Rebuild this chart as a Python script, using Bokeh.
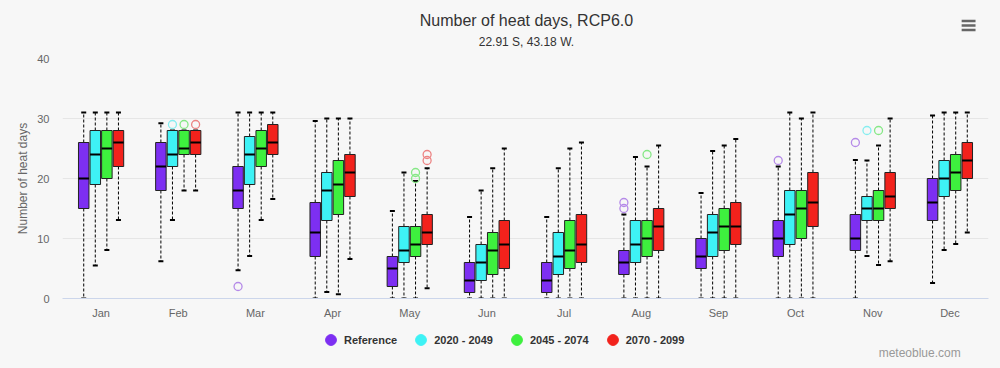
from bokeh.plotting import figure
from bokeh.layouts import column
from bokeh.models import (Range1d, FixedTicker, Legend, LegendItem, ColumnDataSource)
from bokeh.core.properties import value
from bokeh.embed import file_html
from bokeh.resources import INLINE

# ---------------- data ----------------
title_text = "Number of heat days, RCP6.0"
subtitle_text = "22.91 S, 43.18 W."
credit_text = "meteoblue.com"
months = ["Jan", "Feb", "Mar", "Apr", "May", "Jun", "Jul", "Aug", "Sep", "Oct", "Nov", "Dec"]
series_names = ["Reference", "2020 - 2049", "2045 - 2074", "2070 - 2099"]

ref_low  = [0, 6.2, 4.7, 0, 0, 0, 0, 0, 0, 0, 0, 2.6]
ref_q1   = [15, 18, 15, 7, 2, 1, 1, 4, 5, 7, 8, 13]
ref_med  = [20, 22, 18, 11, 5, 3, 3, 6, 7, 10, 10, 16]
ref_q3   = [26, 26, 22, 16, 7, 6, 6, 8, 10, 13, 14, 20]
ref_high = [31, 29.2, 31, 29.6, 14.6, 13.6, 13.6, 14, 17.6, 22, 23.1, 30.5]
ref_out_month = ["Mar", "Aug", "Aug", "Oct", "Nov"]
ref_out_value = [2, 16, 15, 23, 26]

s1_low  = [5.5, 13.1, 7.1, 1.1, 0, 0, 0, 0, 0, 0, 7.1, 8.1]
s1_q1   = [19, 22, 19, 13, 6, 3, 4, 6, 7, 9, 13, 17]
s1_med  = [24, 24, 24, 18, 8, 6, 7, 9, 11, 14, 15, 20]
s1_q3   = [28, 28, 27, 21, 12, 9, 11, 13, 14, 18, 17, 23]
s1_high = [31, 28, 31, 30, 21, 18, 21.7, 23.6, 24.6, 31, 23, 31]
s1_out_month = ["Feb", "Nov"]
s1_out_value = [29, 28]

s2_low  = [8.1, 18, 13.1, 0.7, 0, 0, 0, 0, 0, 0, 5.6, 9.1]
s2_q1   = [20, 24, 22, 14, 7, 4, 5, 7, 8, 10, 13, 18]
s2_med  = [25, 25, 25, 19, 9, 8, 8, 10, 12, 15, 15, 21]
s2_q3   = [28, 28, 28, 23, 12, 11, 13, 13, 15, 18, 18, 24]
s2_high = [31, 28, 31, 30, 19.6, 21.7, 25, 22, 25.5, 30, 25.5, 31]
s2_out_month = ["Feb", "May", "May", "Aug", "Nov"]
s2_out_value = [29, 21, 20, 24, 28]

s3_low  = [13.1, 18, 16.6, 6.6, 1.7, 0, 0, 0, 0, 0, 6.2, 11]
s3_q1   = [22, 24, 24, 17, 9, 5, 6, 8, 9, 12, 15, 20]
s3_med  = [26, 26, 26, 21, 11, 9, 9, 12, 12, 16, 17, 23]
s3_q3   = [28, 28, 29, 24, 14, 13, 14, 15, 16, 21, 21, 26]
s3_high = [31, 28, 31, 30, 21.7, 25, 26, 25.5, 26.6, 31, 30, 31]
s3_out_month = ["Feb", "May", "May"]
s3_out_value = [29, 24, 23]

y_ticks = [0, 10, 20, 30, 40]

# ---------------- styling ----------------
FONT = "Liberation Sans"
BG = "#f7f7f7"
W = 1000
colors = ["#7d2ff2", "#3ef2f5", "#3ef03e", "#f2221c"]
out_colors = ["#b58ae8", "#86eef0", "#86e886", "#ec8383"]
offsets = [-0.225, -0.075, 0.075, 0.225]
box_w = 0.136
cap_w = 0.065


def blank_fig(h):
    f = figure(width=W, height=h, output_backend="svg", toolbar_location=None,
               x_range=Range1d(0, W), y_range=Range1d(h, 0),
               x_axis_location=None, y_axis_location=None,
               min_border=0, min_border_left=0, min_border_right=0,
               min_border_top=0, min_border_bottom=0)
    f.background_fill_color = BG
    f.border_fill_color = BG
    f.outline_line_color = None
    f.xgrid.visible = False
    f.ygrid.visible = False
    return f


# ---------------- header: title, subtitle, menu icon ----------------
HEADER_H = 54
header = blank_fig(HEADER_H)
header.text(x=[501], y=[20], text=[title_text], text_align="center", text_baseline="middle",
            text_font=value(FONT), text_font_size="16px", text_color="#333333")
header.text(x=[501], y=[41], text=[subtitle_text], text_align="center", text_baseline="middle",
            text_font=value(FONT), text_font_size="12px", text_color="#333333")
header.segment(x0=[971, 971, 971], y0=[20.5, 25, 29.5], x1=[986, 986, 986], y1=[20.5, 25, 29.5],
               line_color="#666666", line_width=2.5)

# ---------------- main chart ----------------
series = [
    (ref_low, ref_q1, ref_med, ref_q3, ref_high, ref_out_month, ref_out_value),
    (s1_low, s1_q1, s1_med, s1_q3, s1_high, s1_out_month, s1_out_value),
    (s2_low, s2_q1, s2_med, s2_q3, s2_high, s2_out_month, s2_out_value),
    (s3_low, s3_q1, s3_med, s3_q3, s3_high, s3_out_month, s3_out_value),
]

p = figure(width=W, height=271, output_backend="svg", toolbar_location=None,
           x_range=Range1d(-0.5, 11.5), y_range=Range1d(0, 40),
           min_border_left=62, min_border_right=12, min_border_top=4, min_border_bottom=27)
p.background_fill_color = BG
p.border_fill_color = BG
p.outline_line_color = None

for k, (low, q1, med, q3, high, om, ov) in enumerate(series):
    xs = [i + offsets[k] for i in range(len(months))]
    src = ColumnDataSource(dict(x=xs, low=low, q1=q1, med=med, q3=q3, high=high,
                                x0=[x - box_w / 2 for x in xs], x1=[x + box_w / 2 for x in xs],
                                c0=[x - cap_w / 2 for x in xs], c1=[x + cap_w / 2 for x in xs]))
    p.segment(x0="x", y0="q3", x1="x", y1="high", source=src, line_color="#000000",
              line_width=1, line_dash="3 2")
    p.segment(x0="x", y0="q1", x1="x", y1="low", source=src, line_color="#000000",
              line_width=1, line_dash="3 2")
    p.segment(x0="c0", y0="high", x1="c1", y1="high", source=src, line_color="#000000", line_width=2)
    p.segment(x0="c0", y0="low", x1="c1", y1="low", source=src, line_color="#000000", line_width=2)
    p.vbar(x="x", width=box_w, top="q3", bottom="q1", source=src, fill_color=colors[k],
           line_color="#222222", line_width=1)
    p.segment(x0="x0", y0="med", x1="x1", y1="med", source=src, line_color="#000000", line_width=2)
    ox = [months.index(m) + offsets[k] for m in om]
    p.scatter(x=ox, y=ov, marker="circle", size=8, fill_color=None,
              line_color=out_colors[k], line_width=1.3)

p.xaxis.ticker = FixedTicker(ticks=list(range(len(months))))
p.xaxis.major_label_overrides = {i: m for i, m in enumerate(months)}
p.xaxis.major_tick_line_color = None
p.xaxis.minor_tick_line_color = None
p.xaxis.axis_line_color = "#ccd6eb"
p.xaxis.major_label_text_font = FONT
p.xaxis.major_label_text_font_size = "11px"
p.xaxis.major_label_text_color = "#666666"
p.xaxis.major_label_standoff = 2

p.yaxis.ticker = FixedTicker(ticks=y_ticks)
p.yaxis.major_tick_line_color = None
p.yaxis.minor_tick_line_color = None
p.yaxis.axis_line_color = None
p.yaxis.major_label_text_font = FONT
p.yaxis.major_label_text_font_size = "11px"
p.yaxis.major_label_text_color = "#666666"
p.yaxis.major_label_standoff = 7
p.yaxis.axis_label = "Number of heat days"
p.yaxis.axis_label_text_font = FONT
p.yaxis.axis_label_text_font_size = "12px"
p.yaxis.axis_label_text_font_style = "normal"
p.yaxis.axis_label_text_color = "#666666"
p.yaxis.axis_label_standoff = 4

p.xgrid.grid_line_color = None
p.ygrid.grid_line_color = "#e6e6e6"
p.ygrid.ticker = FixedTicker(ticks=y_ticks)

# ---------------- footer: legend + credit ----------------
FOOTER_H = 43
footer = blank_fig(FOOTER_H)
items = []
for k, name in enumerate(series_names):
    r = footer.scatter(x=[-1000], y=[-1000], marker="circle", size=12,
                       fill_color=colors[k], line_color=colors[k])
    items.append(LegendItem(label=name, renderers=[r]))
legend = Legend(items=items, orientation="horizontal", location=(255, 15),
                label_text_font=FONT, label_text_font_size="11px", label_text_font_style="bold",
                label_text_color="#333333", glyph_width=27, glyph_height=27, label_standoff=0,
                spacing=10, border_line_color=None, background_fill_alpha=0,
                padding=2, margin=0, label_height=27)
footer.add_layout(legend, "center")
footer.text(x=[970], y=[27], text=[credit_text], text_align="right", text_baseline="middle",
            text_font=value(FONT), text_font_size="12px", text_color="#999999")

layout = column(header, p, footer, spacing=0)
layout.background = BG

html = file_html(layout, INLINE)
html = html.replace("<head>", "<head><style>body{background:#f7f7f7;}</style>", 1)
open("out.html", "w").write(html)
